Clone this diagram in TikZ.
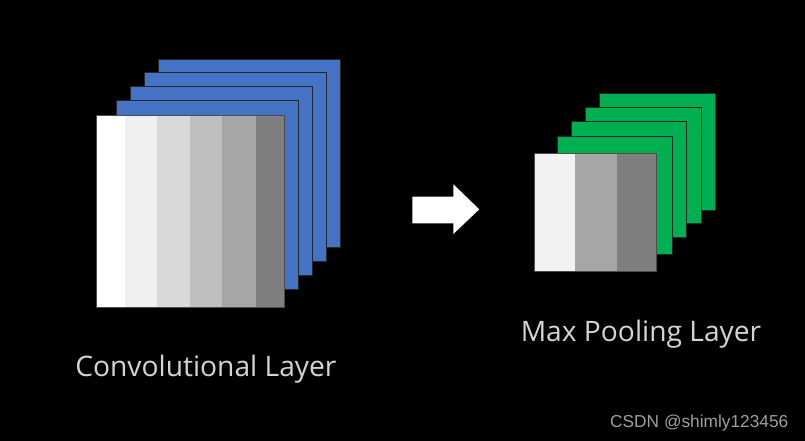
\documentclass[tikz,border=0pt]{standalone}
\usepackage{fontspec}
\setmainfont{Open Sans}
\newfontfamily\wmfont{Liberation Sans}
\definecolor{lblue}{HTML}{4472C4}
\definecolor{lgreen}{HTML}{00B050}
\definecolor{lbl}{HTML}{D4D4D4}
\definecolor{wmc}{HTML}{A0A0A0}
\begin{document}
\begin{tikzpicture}[x=1pt,y=-1pt,
  layer/.style={draw=black!85,line width=0.8pt},
  bluelayer/.style={layer,fill=lblue},
  greenlayer/.style={layer,fill=lgreen},
  label/.style={text=lbl,inner sep=0pt,font=\fontsize{28.2}{33}\selectfont},
]
\fill[black] (0,0) rectangle (805,441);
\useasboundingbox (0,0) rectangle (805,441);
% Convolutional stack
\draw[bluelayer] (158.7,59) rectangle (340,247);
\draw[bluelayer] (144,72.7) rectangle (326.7,261);
\draw[bluelayer] (130,86.7) rectangle (312.7,275);
\draw[bluelayer] (116,100.7) rectangle (298.7,289);
\fill[white]            (96,115) rectangle (125,307);
\fill[fill={rgb,255:red,240;green,240;blue,240}] (125,115) rectangle (157.3,307);
\fill[fill={rgb,255:red,217;green,217;blue,217}] (157.3,115) rectangle (190,307);
\fill[fill={rgb,255:red,191;green,191;blue,191}] (190,115) rectangle (221.7,307);
\fill[fill={rgb,255:red,166;green,166;blue,166}] (221.7,115) rectangle (255.7,307);
\fill[fill={rgb,255:red,127;green,127;blue,127}] (255.7,115) rectangle (284,307);
\draw[draw=black!70,line width=0.6pt] (96,115) rectangle (284,307);
% Pooling stack
\draw[greenlayer] (599.3,93) rectangle (715,210);
\draw[greenlayer] (585.7,107) rectangle (701,223.3);
\draw[greenlayer] (571.7,121) rectangle (686.7,237.7);
\draw[greenlayer] (557.7,136.7) rectangle (672.7,254.3);
\fill[fill={rgb,255:red,242;green,242;blue,242}] (534,153) rectangle (575.3,271);
\fill[fill={rgb,255:red,166;green,166;blue,166}] (575.3,153) rectangle (617,271);
\fill[fill={rgb,255:red,127;green,127;blue,127}] (617,153) rectangle (656,271);
\draw[draw=black!70,line width=0.6pt] (534,153) rectangle (656,271);
% Arrow
\fill[white] (412.3,196.7) -- (453.3,196.7) -- (453.3,184.3) -- (479.3,209.3)
  -- (453.3,234) -- (453.3,223.3) -- (412.3,223.3) -- cycle;
% Labels
\node[label,anchor=base] (conv) at (205.9,376.7) {Convolutional Layer};
\node[label,anchor=base] (pool) at (641,341) {Max Pooling Layer};
\node[text=wmc,inner sep=0pt,anchor=base west,font=\wmfont\fontsize{17.3}{21}\selectfont] (wm) at (610,427.3) {CSDN @shimly123456};
\end{tikzpicture}
\end{document}
